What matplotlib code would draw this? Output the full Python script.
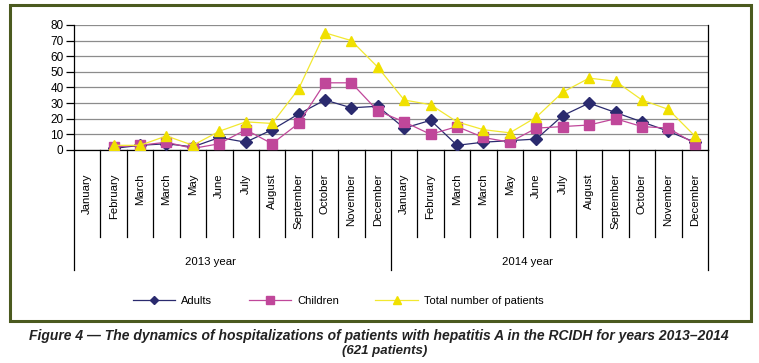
import numpy as np
import matplotlib.pyplot as plt
from matplotlib.patches import Rectangle

plt.rcParams['font.family'] = ['Liberation Sans', 'DejaVu Sans']

# month labels as printed in the figure (April is shown as "March")
months = ["January", "February", "March", "March", "May", "June", "July",
          "August", "September", "October", "November", "December"]
years = ["2013 year", "2014 year"]

nan = np.nan
adults = [nan, 1, 3, 4, 2, 8, 5, 13, 23, 32, 27, 28,
          14, 19, 3, 5, 6, 7, 22, 30, 24, 18, 12, 5]
children = [nan, 2, 3, 5, 1, 4, 13, 4, 17, 43, 43, 25,
            18, 10, 15, 8, 5, 14, 15, 16, 20, 15, 14, 4]
total = [nan, 3, 3, 9, 3, 12, 18, 17, 39, 75, 70, 53,
         32, 29, 18, 13, 11, 21, 37, 46, 44, 32, 26, 9]

W, H = 759, 363
fig = plt.figure(figsize=(W / 100, H / 100), dpi=100)
ax = fig.add_axes([74 / W, 1 - 150 / H, 634 / W, 125 / H])

x = np.arange(len(adults))
ax.plot(x, adults, color='#2a2a6e', marker='D', ms=6, lw=0.9, zorder=3, label='Adults')
ax.plot(x, children, color='#c0479a', mec='#c0479a', marker='s', ms=7, lw=0.9, zorder=4,
        label='Children')
ax.plot(x, total, color='#f2e830', mfc='#f0e000', mec='#f0e000', marker='^', ms=7,
        lw=0.9, zorder=5, label='Total number of patients')

ax.set_xlim(-0.5, 23.5)
ax.set_ylim(0, 80)
ax.set_yticks(range(0, 81, 10))
ax.set_xticks([])
ax.grid(axis='y', color='#8c8c8c', lw=0.9)
ax.set_axisbelow(True)
ax.spines['top'].set_visible(False)
for s in ['left', 'right', 'bottom']:
    ax.spines[s].set_linewidth(0.9)
ax.tick_params(axis='y', length=6, width=0.9, labelsize=8.5, pad=1.5)

# multi-level category axis below the plot
trans = ax.get_xaxis_transform()
for i in range(25):
    ymin = -0.96 if i % 12 == 0 else -0.696
    ax.plot([i - 0.5, i - 0.5], [0, ymin], transform=trans, color='k', lw=0.9,
            clip_on=False)
for i, m in enumerate(months * 2):
    ax.text(i, -0.19, m, rotation=90, ha='center', va='top', transform=trans,
            fontsize=8.2)
for j, y in enumerate(years):
    ax.text(4.65 + 12 * j, -0.896, y, ha='center', va='center', transform=trans,
            fontsize=8.2)

handles, labels = ax.get_legend_handles_labels()
fig.legend(handles, labels, loc='center', bbox_to_anchor=(338 / W, 1 - 301 / H),
           ncol=3, frameon=False, fontsize=8, handlelength=3.8, markerscale=0.75,
           handletextpad=0.55, columnspacing=3.3)

fig.patches.append(Rectangle((10 / W, 1 - 321 / H), 741 / W, 316 / H,
                             transform=fig.transFigure, fill=False,
                             ec='#4b5a1f', lw=2.2))

fig.text(379 / W, 1 - 336 / H,
         "Figure 4 \u2014 The dynamics of hospitalizations of patients with hepatitis A "
         "in the RCIDH for years 2013\u20132014",
         ha='center', va='center', fontsize=10, fontweight='bold', style='italic',
         color='#222222')
fig.text(385 / W, 1 - 351 / H, "(621 patients)", ha='center', va='center',
         fontsize=9.5, fontweight='bold', style='italic', color='#222222')

fig.savefig('out.png', dpi=100)
